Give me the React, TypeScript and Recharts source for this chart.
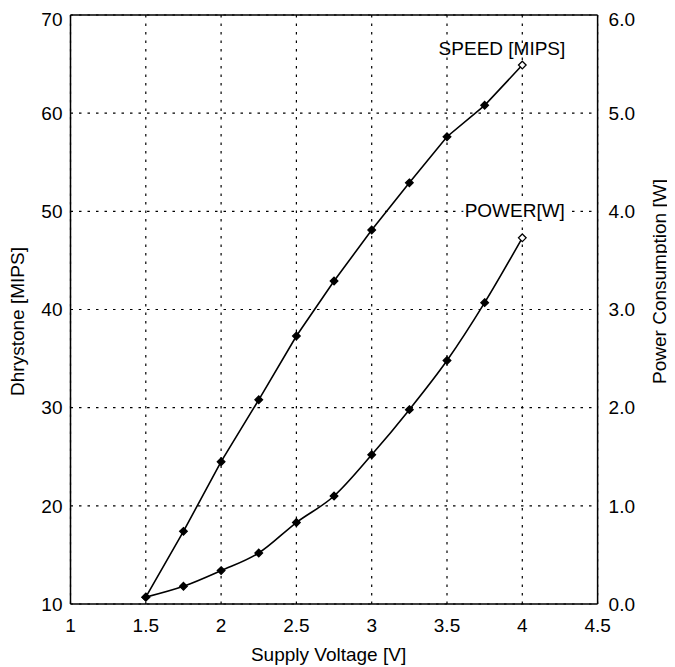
import { LineChart, Line, XAxis, YAxis, CartesianGrid, ReferenceLine, ReferenceDot } from "recharts"

const voltage = [1.5, 1.75, 2, 2.25, 2.5, 2.75, 3, 3.25, 3.5, 3.75, 4]
const speedMips = [10.7, 17.4, 24.5, 30.8, 37.3, 42.9, 48.1, 52.9, 57.6, 60.8, 64.9]
const powerW = [0.07, 0.18, 0.34, 0.52, 0.83, 1.1, 1.52, 1.98, 2.48, 3.07, 3.73]

const voltageTicks = [1, 1.5, 2, 2.5, 3, 3.5, 4, 4.5]
const mipsTicks = [10, 20, 30, 40, 50, 60, 70]
const powerTicks = [0, 1, 2, 3, 4, 5, 6]

const data = voltage.map((v, i) => ({ v, speed: speedMips[i], power: powerW[i] }))

const FONT = "'Liberation Sans', Arial, sans-serif"
const tickStyle = { fill: "#000", fontSize: 19, fontFamily: FONT }
const labelStyle = { fontSize: 19, fontFamily: FONT, fill: "#000" }

// filled diamond, last point drawn hollow
function Diamond(props: any) {
  const { cx, cy, index } = props
  if (cx == null || cy == null) return null
  const s = 3.8
  const last = index === data.length - 1
  return (
    <path
      d={`M${cx},${cy - s} L${cx + s},${cy} L${cx},${cy + s} L${cx - s},${cy} Z`}
      fill={last ? "#fff" : "#000"}
      stroke="#000"
      strokeWidth={1.3}
    />
  )
}

function LeftLabel(props: any) {
  const vb = props.viewBox
  const x = 9.5
  const y = vb.y + vb.height / 2 + 12
  return (
    <text x={x} y={y} transform={`rotate(-90, ${x}, ${y})`} textAnchor="middle" dominantBaseline="central" style={labelStyle}>
      Dhrystone [MIPS]
    </text>
  )
}

function RightLabel(props: any) {
  const vb = props.viewBox
  const x = vb.x + 62
  const y = vb.y + vb.height / 2 - 28
  return (
    <text x={x} y={y} transform={`rotate(-90, ${x}, ${y})`} textAnchor="middle" dominantBaseline="central" style={labelStyle}>
      Power Consumption [W]
    </text>
  )
}

function BottomLabel(props: any) {
  const vb = props.viewBox
  return (
    <text x={vb.x + vb.width / 2 - 5.5} y={vb.y + 50} textAnchor="middle" dominantBaseline="central" style={labelStyle}>
      Supply Voltage [V]
    </text>
  )
}

export default function App() {
  return (
    <LineChart width={667} height={659} data={data} margin={{ top: 7, right: 0, left: 0, bottom: 0 }}>
      <CartesianGrid yAxisId="left" stroke="#000" strokeDasharray="2.5 6" strokeWidth={1.2} />
      <XAxis
        dataKey="v"
        type="number"
        domain={[1, 4.5]}
        ticks={voltageTicks}
        height={63}
        axisLine={{ stroke: "#000", strokeWidth: 1.5 }}
        tickLine={false}
        tickSize={6}
        tickMargin={9}
        tick={tickStyle}
        label={{ content: BottomLabel }}
      />
      <YAxis
        yAxisId="left"
        domain={[10, 70]}
        ticks={mipsTicks}
        width={62.5}
        axisLine={{ stroke: "#000", strokeWidth: 1.5 }}
        tickLine={false}
        tick={tickStyle}
        label={{ content: LeftLabel }}
      />
      <YAxis
        yAxisId="right"
        orientation="right"
        domain={[0, 6]}
        ticks={powerTicks}
        width={77.4}
        axisLine={{ stroke: "#000", strokeWidth: 1.5 }}
        tickLine={false}
        tickMargin={5}
        tick={tickStyle}
        tickFormatter={(t: number) => t.toFixed(1)}
        label={{ content: RightLabel }}
      />
      <ReferenceLine yAxisId="left" y={70} stroke="#000" strokeWidth={1.5} />
      <ReferenceDot
        yAxisId="left"
        x={3.865}
        y={66.6}
        r={0}
        label={{ value: "SPEED [MIPS]", position: "center", style: labelStyle }}
      />
      <ReferenceDot
        yAxisId="left"
        x={3.95}
        y={50.1}
        r={0}
        label={{ value: "POWER[W]", position: "center", style: { ...labelStyle, stroke: "#fff", strokeWidth: 6, paintOrder: "stroke" } }}
      />
      <Line
        yAxisId="left"
        dataKey="speed"
        type="linear"
        stroke="#000"
        strokeWidth={1.6}
        dot={<Diamond />}
        activeDot={false}
        isAnimationActive={false}
      />
      <Line
        yAxisId="right"
        dataKey="power"
        type="monotone"
        stroke="#000"
        strokeWidth={1.6}
        dot={<Diamond />}
        activeDot={false}
        isAnimationActive={false}
      />
    </LineChart>
  )
}
